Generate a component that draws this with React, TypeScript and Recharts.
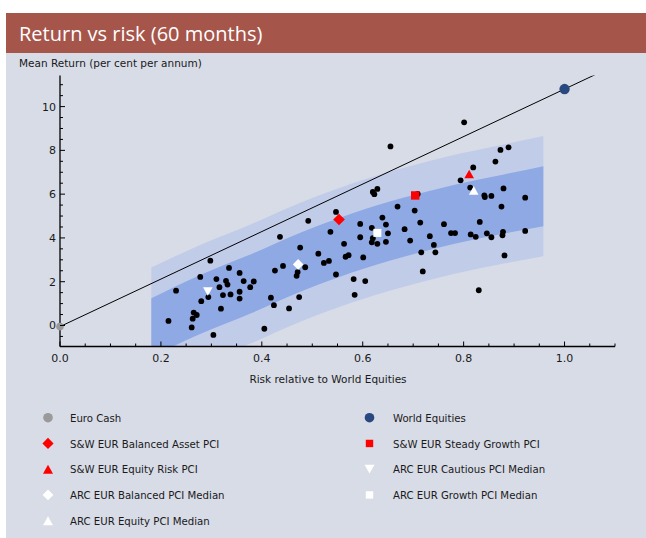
import React from 'react';
import { ComposedChart, XAxis, YAxis, Area, Scatter, ReferenceLine, Legend } from 'recharts';

// ---------- axis ticks ----------
const xTicks = [0, 0.05, 0.1, 0.15, 0.2, 0.25, 0.3, 0.35, 0.4, 0.45, 0.5, 0.55, 0.6, 0.65, 0.7, 0.75, 0.8, 0.85, 0.9, 0.95, 1.0, 1.05, 1.1];
const xTickLabels = [0, 0.2, 0.4, 0.6, 0.8, 1.0];
const yTicks = [-0.5, 0, 0.5, 1, 1.5, 2, 2.5, 3, 3.5, 4, 4.5, 5, 5.5, 6, 6.5, 7, 7.5, 8, 8.5, 9, 9.5, 10, 10.5, 11];
const yTickLabels = [0, 2, 4, 6, 8, 10];
const xDomain = [0, 1.1];
const yDomain = [-0.96, 11.42];

// ---------- confidence bands ----------
const bandRisk = [0.181, 0.28, 0.38, 0.48, 0.58, 0.68, 0.78, 0.88, 0.958];
const outerLow = [-2.8, -1.74, -0.8, 0.2, 1.06, 1.76, 2.35, 2.83, 3.16];
const innerLow = [-1.43, -0.37, 0.57, 1.57, 2.43, 3.13, 3.72, 4.2, 4.53];
const innerHigh = [1.24, 2.33, 3.27, 4.27, 5.13, 5.83, 6.42, 6.9, 7.27];
const outerHigh = [2.65, 3.7, 4.64, 5.64, 6.5, 7.2, 7.79, 8.27, 8.66];

// ---------- peer group dots ----------
const peerRisk = [
  0.215, 0.23, 0.261, 0.263, 0.265, 0.271, 0.28, 0.278, 0.298, 0.294, 0.304, 0.31, 0.316, 0.319, 0.323, 0.329,
  0.332, 0.335, 0.338, 0.356, 0.356, 0.356, 0.364, 0.377, 0.384, 0.405, 0.418, 0.424, 0.426, 0.436, 0.442, 0.454,
  0.469, 0.471, 0.476, 0.474, 0.486, 0.492, 0.512, 0.523, 0.533, 0.536, 0.547, 0.547, 0.563, 0.566, 0.572, 0.582,
  0.584, 0.595, 0.595, 0.601, 0.605, 0.618, 0.62, 0.623, 0.629, 0.618, 0.629, 0.62, 0.639, 0.646, 0.646, 0.65,
  0.655, 0.669, 0.683, 0.694, 0.703, 0.709, 0.714, 0.716, 0.719, 0.733, 0.741, 0.744, 0.761, 0.775, 0.783, 0.794,
  0.801, 0.813, 0.819, 0.814, 0.824, 0.83, 0.832, 0.841, 0.842, 0.855, 0.846, 0.855, 0.863, 0.873, 0.875, 0.879,
  0.877, 0.878, 0.881, 0.889, 0.922, 0.922,
];
const peerReturn = [
  0.21, 1.59, -0.09, 0.31, 0.59, 0.48, 1.11, 2.22, 2.96, 1.3, -0.43, 2.12, 1.75, 0.77, 1.39, 2.04,
  1.87, 2.63, 1.42, 2.4, 1.54, 1.23, 2.03, 1.75, 2.01, -0.15, 1.27, 0.93, 2.51, 4.05, 2.72, 0.78,
  2.27, 2.44, 3.56, 1.3, 2.66, 4.78, 3.28, 2.86, 2.95, 4.28, 2.33, 5.19, 3.73, 3.14, 3.21, 2.12,
  1.4, 4.03, 4.64, 3.11, 2.03, 4.46, 6.1, 6.0, 6.24, 3.8, 3.73, 3.99, 4.93, 4.61, 3.82, 4.21,
  8.18, 5.43, 4.4, 3.88, 5.25, 6.01, 4.7, 3.34, 2.47, 4.08, 3.68, 3.34, 4.63, 4.22, 4.22, 6.63,
  9.28, 6.3, 7.22, 4.16, 4.05, 1.61, 4.73, 5.94, 5.87, 5.92, 4.21, 4.03, 7.49, 8.02, 5.43, 6.26,
  4.12, 4.28, 3.2, 8.14, 5.84, 4.32,
];

// ---------- highlighted funds ----------
const fundNames = [
  'Euro Cash',
  'World Equities',
  'S&W EUR Balanced Asset PCI',
  'S&W EUR Steady Growth PCI',
  'S&W EUR Equity Risk PCI',
  'ARC EUR Cautious PCI Median',
  'ARC EUR Balanced PCI Median',
  'ARC EUR Growth PCI Median',
  'ARC EUR Equity PCI Median',
];
const fundRisk = [0, 1.0, 0.553, 0.704, 0.811, 0.293, 0.472, 0.629, 0.82];
const fundReturn = [-0.05, 10.8, 4.84, 5.94, 6.92, 1.55, 2.79, 4.23, 6.17];

// ---------- styles ----------
const fundKinds = ['circle', 'circle', 'diamond', 'square', 'triangle', 'triangleDown', 'diamond', 'square', 'triangle'];
const fundFills = ['#9a9a9a', '#2a4880', '#ff0000', '#ff0000', '#ff0000', '#ffffff', '#ffffff', '#ffffff', '#ffffff'];
const fundSizes = [3.8, 5.2, 5.8, 4.2, 4.8, 4.8, 5.3, 4.0, 4.8];
const legendSizes = [4.8, 4.8, 5.6, 3.7, 5.0, 5.0, 5.4, 3.7, 5.0];

const BG = '#d8dce7';
const LIGHT = '#c1cce9';
const DARK = '#8fa9e4';
const TITLE = '#a6554a';
const AXIS_FONT = "'DejaVu Sans', Verdana, sans-serif";
const LEGEND_FONT = "'Liberation Sans Narrow', 'DejaVu Sans Condensed', 'Liberation Sans', Arial, sans-serif";

const bandData = bandRisk.map((r, i) => ({
  risk: r,
  outer: [outerLow[i], outerHigh[i]],
  inner: [innerLow[i], innerHigh[i]],
}));
const peerData = peerRisk.map((r, i) => ({ risk: r, ret: peerReturn[i] }));
const fundData = fundNames.map((_, i) => [{ risk: fundRisk[i], ret: fundReturn[i] }]);

// capital market line: through cash and world equities, extended to the right edge
const cmlSlope = (fundReturn[1] - fundReturn[0]) / (fundRisk[1] - fundRisk[0]);
const cmlEnd = { x: xDomain[1], y: fundReturn[0] + cmlSlope * (xDomain[1] - fundRisk[0]) };

function drawMarker(kind: string, cx: number, cy: number, fill: string, s: number, key?: any) {
  switch (kind) {
    case 'circle':
      return <circle key={key} cx={cx} cy={cy} r={s} fill={fill} />;
    case 'diamond':
      return <polygon key={key} points={`${cx},${cy - s} ${cx + s},${cy} ${cx},${cy + s} ${cx - s},${cy}`} fill={fill} />;
    case 'square':
      return <rect key={key} x={cx - s} y={cy - s} width={2 * s} height={2 * s} fill={fill} />;
    case 'triangle': {
      const h = s * 1.8;
      return <polygon key={key} points={`${cx},${cy - h / 2} ${cx + s},${cy + h / 2} ${cx - s},${cy + h / 2}`} fill={fill} />;
    }
    case 'triangleDown': {
      const h = s * 1.75;
      return <polygon key={key} points={`${cx - s},${cy - h / 2} ${cx + s},${cy - h / 2} ${cx},${cy + h / 2}`} fill={fill} />;
    }
    default:
      return <circle key={key} cx={cx} cy={cy} r={s} fill={fill} />;
  }
}

const LeftTick = (props: any) => {
  const { x, y, payload } = props;
  const v = payload.value;
  const major = yTickLabels.includes(v);
  return (
    <g>
      <line x1={x} x2={x + (major ? 5 : 3)} y1={y} y2={y} stroke="#000" strokeWidth={1} />
      {major && (
        <text x={x - 4} y={y} dy="0.36em" textAnchor="end" fontSize={11} fontFamily={AXIS_FONT} fill="#1a1a1a">
          {v}
        </text>
      )}
    </g>
  );
};

const RightTick = (props: any) => {
  const { x, y, payload } = props;
  const major = yTickLabels.includes(payload.value);
  return <line x1={x} x2={x - (major ? 5 : 3)} y1={y} y2={y} stroke="#000" strokeWidth={1} />;
};

const BottomTick = (props: any) => {
  const { x, y, payload } = props;
  const v = payload.value;
  const major = xTickLabels.includes(v);
  return (
    <g>
      <line x1={x} x2={x} y1={y} y2={y - (major ? 5 : 3)} stroke="#000" strokeWidth={1} />
      {major && (
        <text x={x} y={y + 15.3} textAnchor="middle" fontSize={11} fontFamily={AXIS_FONT} fill="#1a1a1a">
          {v.toFixed(1)}
        </text>
      )}
    </g>
  );
};

const renderLegend = (props: any) => {
  const items = (props.payload || [])
    .filter((p: any) => fundNames.includes(p.value))
    .sort((a: any, b: any) => fundNames.indexOf(a.value) - fundNames.indexOf(b.value));
  return (
    <svg width={646} height={135} style={{ display: 'block' }}>
      {items.map((p: any, i: number) => {
        const idx = fundNames.indexOf(p.value);
        const col = i % 2;
        const row = Math.floor(i / 2);
        const mx = col ? 369.5 : 48;
        const tx = col ? 393 : 70;
        const cy = 17.7 + row * 25.75;
        return (
          <g key={p.value}>
            {drawMarker(fundKinds[idx], mx, cy, fundFills[idx], legendSizes[idx])}
            <text x={tx} y={cy} dy="0.36em" fontSize={11.3} fontFamily={LEGEND_FONT} fill="#1a1a1a">
              {p.value}
            </text>
          </g>
        );
      })}
    </svg>
  );
};

export default function App() {
  return (
    <div style={{ position: 'absolute', left: 0, top: 0, width: 646, height: 538, background: '#ffffff', overflow: 'hidden' }}>
      <svg width={646} height={538} style={{ position: 'absolute', left: 0, top: 0 }}>
        <rect x={6} y={13} width={640} height={525} fill={BG} />
        <rect x={6} y={13} width={640} height={40} fill={TITLE} />
        <text x={19} y={41} fontSize={20} fontFamily="'Open Sans', 'DejaVu Sans', sans-serif" fill="#ffffff">
          Return vs risk (60 months)
        </text>
        <text x={19} y={66.5} fontSize={10.5} fontFamily={AXIS_FONT} fill="#1a1a1a">
          Mean Return (per cent per annum)
        </text>
        <text x={328} y={383} textAnchor="middle" fontSize={10.5} fontFamily={AXIS_FONT} fill="#1a1a1a">
          Risk relative to World Equities
        </text>
      </svg>
      <div style={{ position: 'absolute', left: 0, top: 0 }}>
        <ComposedChart
          width={646}
          height={538}
          data={bandData}
          margin={{ top: 75.5, left: 20, right: 31, bottom: 161.5 }}
        >
          <XAxis
            xAxisId="b"
            type="number"
            dataKey="risk"
            domain={xDomain}
            ticks={xTicks}
            interval={0}
            height={30}
            tickSize={0}
            tickMargin={0}
            tickLine={false}
            tick={<BottomTick />}
            axisLine={{ stroke: '#000', strokeWidth: 1.3 }}
          />
          <XAxis
            xAxisId="t"
            orientation="top"
            type="number"
            domain={xDomain}
            allowDataOverflow
            height={0}
            tick={false}
            tickLine={false}
            axisLine={{ stroke: '#000', strokeWidth: 1.3 }}
          />
          <YAxis
            yAxisId="l"
            type="number"
            dataKey="ret"
            domain={yDomain}
            ticks={yTicks}
            interval={0}
            width={40}
            tickSize={0}
            tickMargin={0}
            tickLine={false}
            tick={<LeftTick />}
            axisLine={{ stroke: '#000', strokeWidth: 1.3 }}
          />
          <YAxis
            yAxisId="r"
            orientation="right"
            type="number"
            domain={yDomain}
            allowDataOverflow
            ticks={yTicks}
            interval={0}
            width={0}
            tickSize={0}
            tickMargin={0}
            tickLine={false}
            tick={<RightTick />}
            axisLine={{ stroke: '#000', strokeWidth: 1.3 }}
          />
          <Area
            xAxisId="b"
            yAxisId="r"
            type="monotone"
            dataKey="outer"
            stroke="none"
            fill={LIGHT}
            fillOpacity={1}
            legendType="none"
            isAnimationActive={false}
          />
          <Area
            xAxisId="b"
            yAxisId="r"
            type="monotone"
            dataKey="inner"
            stroke="none"
            fill={DARK}
            fillOpacity={1}
            legendType="none"
            isAnimationActive={false}
          />
          <ReferenceLine
            xAxisId="b"
            yAxisId="r"
            segment={[{ x: fundRisk[0], y: fundReturn[0] }, cmlEnd]}
            stroke="#000"
            strokeWidth={1}
            ifOverflow="hidden"
          />
          <Scatter
            xAxisId="b"
            yAxisId="l"
            name="Peers"
            data={peerData}
            legendType="none"
            isAnimationActive={false}
            shape={(p: any) => <circle cx={p.cx} cy={p.cy} r={2.9} fill="#000" />}
          />
          {fundNames.map((name, i) => (
            <Scatter
              key={name}
              xAxisId="b"
              yAxisId="l"
              name={name}
              data={fundData[i]}
              fill={fundFills[i]}
              isAnimationActive={false}
              shape={(p: any) => drawMarker(fundKinds[i], p.cx, p.cy, fundFills[i], fundSizes[i])}
            />
          ))}
          <Legend
            layout="vertical"
            align="center"
            verticalAlign="middle"
            wrapperStyle={{ left: 0, top: 400, width: 646, height: 135 }}
            content={renderLegend}
          />
        </ComposedChart>
      </div>
    </div>
  );
}
